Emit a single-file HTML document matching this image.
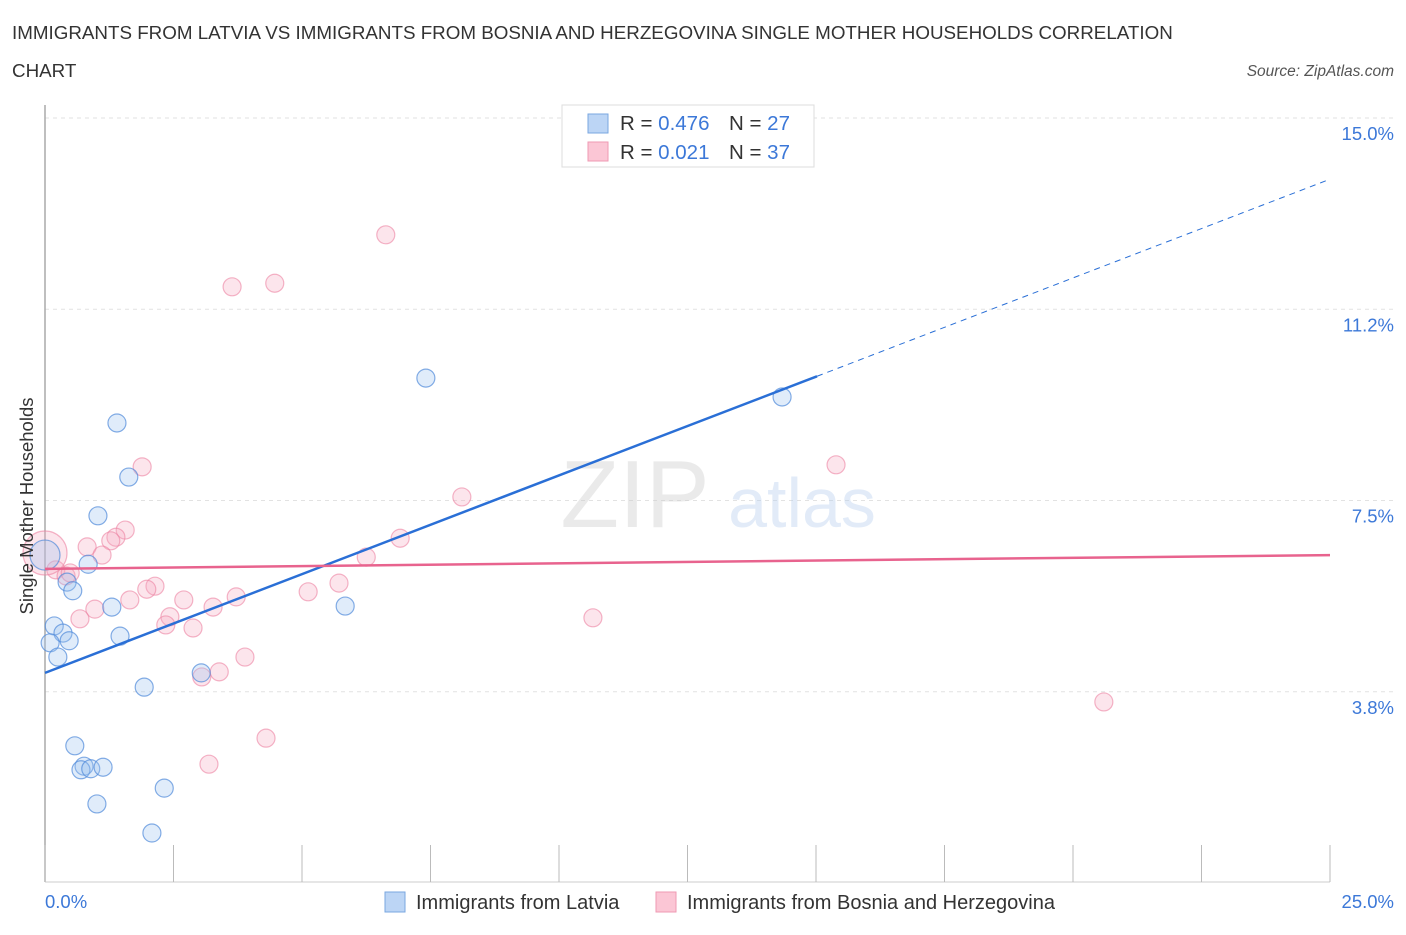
<!DOCTYPE html>
<html><head><meta charset="utf-8"><style>
body{margin:0;background:#fff;font-family:"Liberation Sans",sans-serif;}
svg text{font-family:"Liberation Sans",sans-serif;}
</style></head><body>
<svg width="1406" height="930" viewBox="0 0 1406 930">
<text x="12" y="39" font-size="18.8" fill="#333">IMMIGRANTS FROM LATVIA VS IMMIGRANTS FROM BOSNIA AND HERZEGOVINA SINGLE MOTHER HOUSEHOLDS CORRELATION</text>
<text x="12" y="77" font-size="18.8" fill="#333">CHART</text>
<text x="1394" y="76" font-size="15.5" fill="#555" font-style="italic" text-anchor="end">Source: ZipAtlas.com</text>
<g id="grid"></g>
<g opacity="0.4">
<text x="635" y="527" font-size="96" fill="#ccc" font-family="Liberation Serif,serif" text-anchor="middle">ZIP</text>
<text x="802" y="527" font-size="70" fill="#b7cfee" text-anchor="middle">atlas</text>
</g>
<line x1="45" y1="105" x2="45" y2="882" stroke="#aaa" stroke-width="1.5"/>
<line x1="45" y1="882" x2="1330" y2="882" stroke="#ccc" stroke-width="1"/>
<g id="xticks"></g>
<g id="pts"></g>
<g id="trend"></g>
<text x="20" y="493" font-size="18.5" fill="#333" text-anchor="middle" transform="rotate(-90 33 493)">Single Mother Households</text>
<text x="45" y="908" font-size="18.5" fill="#3c78d8">0.0%</text>
<text x="1394" y="908" font-size="18.5" fill="#3c78d8" text-anchor="end">25.0%</text>
<g>
<rect x="562" y="105" width="252" height="62" fill="#fff" stroke="#ddd"/>
<rect x="588" y="114" width="20" height="19" fill="#bcd5f5" stroke="#7aa7e0"/>
<rect x="588" y="142" width="20" height="19" fill="#fbc6d5" stroke="#ef9ab3"/>
<text x="620" y="130" font-size="20.5" fill="#333">R = <tspan fill="#3c78d8">0.476</tspan></text>
<text x="729" y="130" font-size="20.5" fill="#333">N = <tspan fill="#3c78d8">27</tspan></text>
<text x="620" y="159" font-size="20.5" fill="#333">R = <tspan fill="#3c78d8">0.021</tspan></text>
<text x="729" y="159" font-size="20.5" fill="#333">N = <tspan fill="#3c78d8">37</tspan></text>
</g>
<g>
<rect x="385" y="892" width="20" height="20" fill="#bcd5f5" stroke="#7aa7e0"/>
<text x="416" y="909" font-size="20" fill="#333">Immigrants from Latvia</text>
<rect x="656" y="892" width="20" height="20" fill="#fbc6d5" stroke="#ef9ab3"/>
<text x="687" y="909" font-size="20" fill="#333">Immigrants from Bosnia and Herzegovina</text>
</g>
</svg>
<script>
const yTicks=[15.0,11.25,7.5,3.75];
const yTickLabels=["15.0%","11.2%","7.5%","3.8%"];
const xTickVals=[0,2.5,5,7.5,10,12.5,15,17.5,20,22.5,25];
const latviaX=[1.40,1.63,1.03,0.84,0.43,0.54,1.30,1.46,0.18,0.35,0.47,0.10,0.25,3.04,1.93,0.58,0.76,0.70,0.89,1.13,1.01,2.32,2.08,5.84,7.41,14.34,0.0];
const latviaY=[9.02,7.96,7.20,6.25,5.90,5.73,5.41,4.84,5.04,4.90,4.75,4.71,4.43,4.12,3.84,2.69,2.29,2.22,2.24,2.27,1.55,1.86,0.98,5.43,9.90,9.53,6.43];
const latviaR=[9,9,9,9,9,9,9,9,9,9,9,9,9,9,9,9,9,9,9,9,9,9,9,9,9,9,15];
const bosniaX=[6.63,3.64,4.47,1.89,15.39,8.11,1.56,1.38,1.28,0.82,1.11,6.91,6.25,0.21,0.41,2.14,1.98,5.72,5.12,3.72,2.70,1.65,0.97,3.27,2.43,0.68,2.35,2.88,10.66,3.89,3.39,3.05,4.30,3.19,20.60,0.0,0.49];
const bosniaY=[12.71,11.69,11.76,8.16,8.20,7.57,6.92,6.78,6.71,6.59,6.43,6.76,6.39,6.14,6.02,5.82,5.76,5.88,5.71,5.61,5.55,5.55,5.37,5.41,5.22,5.18,5.06,5.00,5.20,4.43,4.14,4.04,2.84,2.33,3.55,6.47,6.08];
const bosniaR=[9,9,9,9,9,9,9,9,9,9,9,9,9,9,9,9,9,9,9,9,9,9,9,9,9,9,9,9,9,9,9,9,9,9,9,22,9];
const latviaTrend=[4.12,13.8];
const latviaSolidEnd=15.02;
const bosniaTrend=[6.16,6.43];
const NS='http://www.w3.org/2000/svg';
const X=v=>45+v*51.4;
const Y=v=>118+(15-v)*51.0;
function mk(t,a,p){const e=document.createElementNS(NS,t);for(const k in a)e.setAttribute(k,a[k]);document.getElementById(p).appendChild(e);return e;}
yTicks.forEach((t,i)=>{
 const l=mk('line',{x1:45,x2:1395,y1:Y(t),y2:Y(t),stroke:'#e2e2e2','stroke-dasharray':'4,4'},'grid');
 
 
 const tx=mk('text',{x:1394,y:Y(t)+22,'font-size':18.5,fill:'#3c78d8','text-anchor':'end'},'grid');
 tx.textContent=yTickLabels[i];
 
 
});
xTickVals.forEach(v=>{
 const l=mk('line',{x1:X(v),x2:X(v),y1:845,y2:882,stroke:'#bbb'},'xticks');
 
 
});
bosniaX.forEach((x,i)=>{
 const c=mk('circle',{cx:X(x),cy:Y(bosniaY[i]),r:bosniaR[i],fill:'rgba(246,170,192,0.3)',stroke:'rgba(236,130,162,0.6)','stroke-width':1.2},'pts');
 
 
});
latviaX.forEach((x,i)=>{
 const c=mk('circle',{cx:X(x),cy:Y(latviaY[i]),r:latviaR[i],fill:'rgba(160,196,240,0.32)',stroke:'rgba(80,138,218,0.7)','stroke-width':1.2},'pts');
 
 
});
const ly=x=>latviaTrend[0]+(latviaTrend[1]-latviaTrend[0])*x/25;
let t1=mk('line',{x1:X(0),y1:Y(ly(0)),x2:X(latviaSolidEnd),y2:Y(ly(latviaSolidEnd)),stroke:'#2a6fd6','stroke-width':2.5},'trend');


let t2=mk('line',{x1:X(latviaSolidEnd),y1:Y(ly(latviaSolidEnd)),x2:X(25),y2:Y(ly(25)),stroke:'#2a6fd6','stroke-width':1,'stroke-dasharray':'6,5'},'trend');


let t3=mk('line',{x1:X(0),y1:Y(bosniaTrend[0]),x2:X(25),y2:Y(bosniaTrend[1]),stroke:'#e8638e','stroke-width':2.5},'trend');


</script>
</body></html>
